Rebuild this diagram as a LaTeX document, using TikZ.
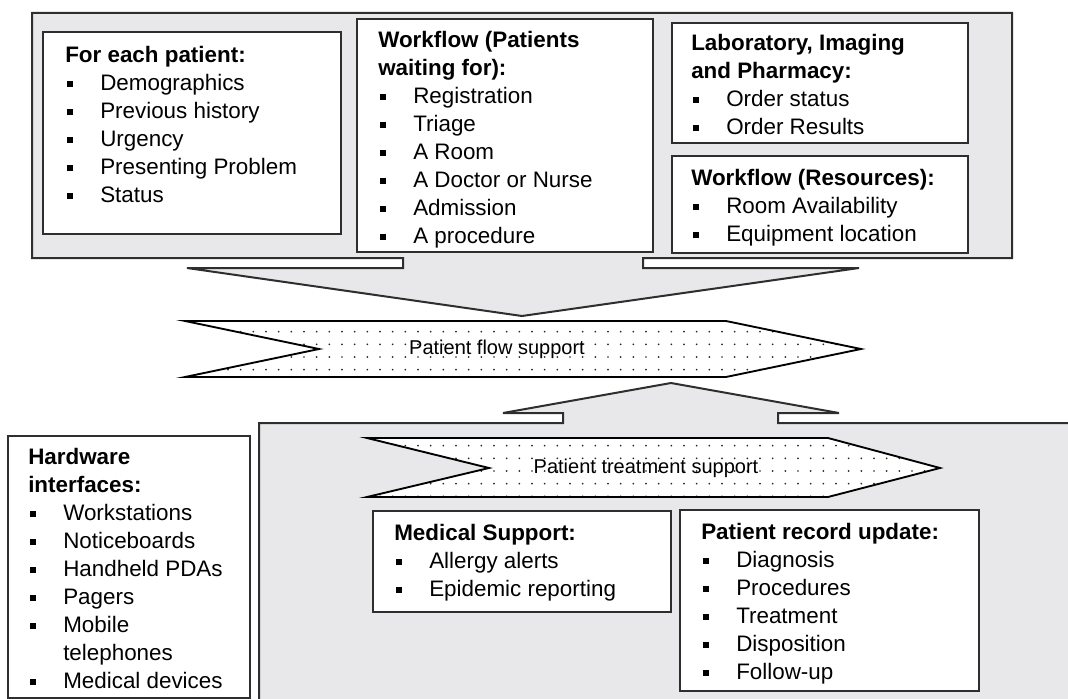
\documentclass[tikz,border=0pt]{standalone}
\usepackage{fontspec}
\setmainfont{Liberation Sans}
\usetikzlibrary{patterns.meta}

\definecolor{panelgray}{HTML}{E8E8EA}
\definecolor{edgegray}{HTML}{2E2E2E}
\newcommand{\sqb}{\rule[2.6pt]{4.4pt}{4.4pt}}
\newcommand{\itm}[1]{\makebox[26.25pt][l]{\hspace*{1.5pt}\sqb}#1}

\begin{document}
\begin{tikzpicture}[x=0.75pt, y=-0.75pt, line join=miter,
    panel/.style={fill=panelgray, draw=edgegray, line width=1.5pt},
    info box/.style={draw=edgegray, fill=white, line width=1.3pt},
    list text/.style={anchor=north west, inner sep=0pt, align=left,
                      font=\fontsize{16.8}{21}\selectfont},
    chevron/.style={draw=black, line width=1.4pt, preaction={fill=white},
                    pattern={Dots[distance=9.5pt,radius=0.7pt]}, pattern color=black!85},
    chevron text/.style={font=\fontsize{15}{18}\selectfont, inner sep=1pt}]

  \useasboundingbox (0,0) rectangle (1068,699);
  \clip (0,0) rectangle (1068,699);

  % panels with their arrows
  \draw[panel] (32,13) -- (1012,13) -- (1012,258) -- (643,258) -- (643,268)
     -- (859,268) -- (522,316) -- (187,268) -- (403,268) -- (403,258)
     -- (32,258) -- cycle;
  \draw[panel] (259,720) -- (259,423) -- (563,423) -- (563,413) -- (503,413)
     -- (671,383) -- (839,413) -- (778,413) -- (778,423) -- (1090,423)
     -- (1090,720) -- cycle;

  % boxes
  \draw[info box] (43,32) rectangle (341,234);
  \draw[info box] (357,19) rectangle (653,252);
  \draw[info box] (672,23) rectangle (968,143);
  \draw[info box] (672,156) rectangle (968,253);
  \draw[info box] (8,436) rectangle (250,698);
  \draw[info box] (373,511) rectangle (671,612);
  \draw[info box] (680,510) rectangle (979,691);

  \node[list text] (patient) at (65,46) {\textbf{For each patient:}\\
    \itm{Demographics}\\ \itm{Previous history}\\ \itm{Urgency}\\
    \itm{Presenting Problem}\\ \itm{Status}};
  \node[list text] (waiting) at (378,31) {\textbf{Workflow (Patients}\\
    \textbf{waiting for):}\\ \itm{Registration}\\ \itm{Triage}\\ \itm{A Room}\\
    \itm{A Doctor or Nurse}\\ \itm{Admission}\\ \itm{A procedure}};
  \node[list text] (lab) at (691,34) {\textbf{Laboratory, Imaging}\\
    \textbf{and Pharmacy:}\\ \itm{Order status}\\ \itm{Order Results}};
  \node[list text] (resources) at (691,169) {\textbf{Workflow (Resources):}\\
    \itm{Room Availability}\\ \itm{Equipment location}};
  \node[list text] (hardware) at (28,448) {\textbf{Hardware}\\
    \textbf{interfaces:}\\ \itm{Workstations}\\ \itm{Noticeboards}\\
    \itm{Handheld PDAs}\\ \itm{Pagers}\\ \itm{Mobile}\\
    \hspace*{26.25pt}telephones\\ \itm{Medical devices}};
  \node[list text] (medical) at (394,524) {\textbf{Medical Support:}\\
    \itm{Allergy alerts}\\ \itm{Epidemic reporting}};
  \node[list text] (record) at (701,523) {\textbf{Patient record update:}\\
    \itm{Diagnosis}\\ \itm{Procedures}\\ \itm{Treatment}\\
    \itm{Disposition}\\ \itm{Follow-up}};

  % support chevrons
  \draw[chevron] (185,321) -- (726,321) -- (861,349) -- (726,377)
     -- (185,377) -- (319,349) -- cycle;
  \node[chevron text] (flow) at (497,349) {Patient flow support};
  \draw[chevron] (367,438) -- (828,438) -- (940,468) -- (828,497)
     -- (367,497) -- (489,468) -- cycle;
  \node[chevron text] (treatment) at (646,468) {Patient treatment support};

\end{tikzpicture}
\end{document}
